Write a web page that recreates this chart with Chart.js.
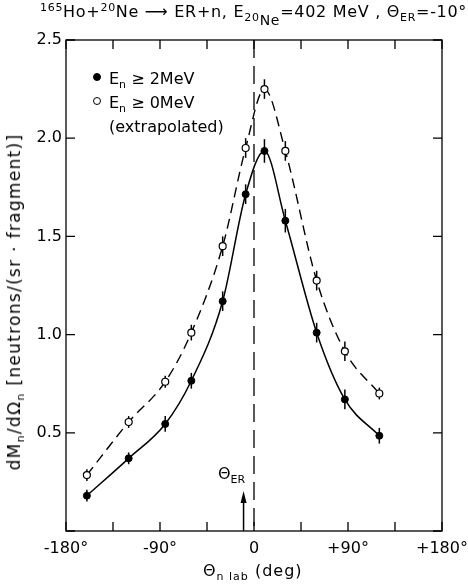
<!DOCTYPE html>
<html>
<head>
<meta charset="utf-8">
<script src="https://cdn.jsdelivr.net/npm/chart.js@4.4.1/dist/chart.umd.min.js"></script>
<style>
  html, body { margin: 0; padding: 0; background: #fff; }
  #wrap { position: relative; width: 468px; height: 587px; font-family: "DejaVu Sans", sans-serif; color: #000; }
  #chart { position: absolute; left: 0; top: 0; }
  .txt { position: absolute; white-space: nowrap; font-size: 16px; line-height: 20px; }
  .txt sub, .txt sup { font-size: 11px; line-height: 0; }
  .txt sub { vertical-align: -4px; }
  .txt sup { vertical-align: 6px; }
  #legend .row { height: 24px; line-height: 24px; }
  .mk { display: inline-block; width: 6px; height: 6px; border-radius: 50%; border: 1px solid #000; margin-right: 8px; vertical-align: 3px; }
  .mk.full { background: #000; }
  .mk.open { background: #fff; }
  .mk.none { border-color: transparent; }
</style>
</head>
<body>
<div id="wrap">
  <canvas id="chart" width="468" height="587"></canvas>
  <div class="txt" id="title" style="left:40px; top:2px; letter-spacing:0.7px;"><sup>165</sup>Ho+<sup>20</sup>Ne ⟶ ER+n, E<sub>20</sub><sub style="vertical-align:-8px; font-size:14px;">Ne</sub>=402 MeV , Θ<sub>ER</sub>=-10°</div>
  <div class="txt" id="legend" style="left:93px; top:67px;">
    <div class="row"><span class="mk full"></span>E<sub>n</sub> ≥ 2MeV</div>
    <div class="row"><span class="mk open"></span>E<sub>n</sub> ≥ 0MeV</div>
    <div class="row"><span class="mk none"></span>(extrapolated)</div>
  </div>
  <div class="txt" id="erLabel" style="left:218px; top:464px;">Θ<sub>ER</sub></div>
  <div class="txt" id="xTitle" style="left:203px; top:561px; letter-spacing:1px;">Θ<sub>n lab</sub> (deg)</div>
  <div class="txt" id="yTitle" style="left:14px; top:302px; font-size:17px; letter-spacing:1.3px; transform: translate(-50%, -50%) rotate(-90deg);">dM<sub>n</sub>/dΩ<sub>n</sub> [neutrons/(sr · fragment)]</div>
</div>
<script>
const angles = [-160, -120, -85, -60, -30, -8, 10, 30, 60, 87, 120];
const yield2MeV = [0.18, 0.37, 0.545, 0.765, 1.17, 1.715, 1.935, 1.58, 1.01, 0.67, 0.485];
const err2MeV = [0.03, 0.03, 0.04, 0.04, 0.05, 0.05, 0.06, 0.06, 0.05, 0.05, 0.04];
const yield0MeV = [0.285, 0.555, 0.76, 1.01, 1.45, 1.95, 2.25, 1.935, 1.275, 0.915, 0.70];
const err0MeV = [0.03, 0.03, 0.03, 0.04, 0.05, 0.05, 0.05, 0.05, 0.05, 0.05, 0.03];

const xTicks = [-180, -135, -90, -45, 0, 45, 90, 135, 180];
const xTickLabels = ["-180°", "", "-90°", "", "0", "", "+90°", "", "+180°"];
const yTicks = [0, 0.5, 1.0, 1.5, 2.0, 2.5];
const yTickLabels = ["", "0.5", "1.0", "1.5", "2.0", "2.5"];

const erAngle = -10;
const FONT = "'DejaVu Sans', sans-serif";

function toPoints(ys) {
  return angles.map((a, i) => ({ x: a, y: ys[i] }));
}

// frame, inward ticks, dashed zero line, theta_ER arrow, error bars
const decorations = {
  id: "decorations",
  beforeDatasetsDraw(chart) {
    const ctx = chart.ctx;
    const xs = chart.scales.x, ys = chart.scales.y;
    const { top, bottom } = chart.chartArea;
    ctx.save();
    ctx.strokeStyle = "#000";

    // dashed line at 0 deg
    const x0 = xs.getPixelForValue(0);
    ctx.lineWidth = 1.3;
    ctx.setLineDash([18, 8]);
    ctx.beginPath();
    ctx.moveTo(x0, top);
    ctx.lineTo(x0, bottom);
    ctx.stroke();
    ctx.setLineDash([]);

    // error bars
    ctx.lineWidth = 1.5;
    chart.data.datasets.forEach((ds) => {
      ds.data.forEach((p, i) => {
        const e = ds.errors[i];
        const px = xs.getPixelForValue(p.x);
        ctx.beginPath();
        ctx.moveTo(px, ys.getPixelForValue(p.y - e));
        ctx.lineTo(px, ys.getPixelForValue(p.y + e));
        ctx.stroke();
      });
    });
    ctx.restore();
  },
  afterDraw(chart) {
    const ctx = chart.ctx;
    const xs = chart.scales.x, ys = chart.scales.y;
    const { left, right, top, bottom } = chart.chartArea;
    const tl = 9;
    ctx.save();
    ctx.strokeStyle = "#000";
    ctx.fillStyle = "#000";
    ctx.lineWidth = 1.3;
    ctx.strokeRect(left, top, right - left, bottom - top);

    ctx.beginPath();
    xTicks.forEach((v) => {
      const px = xs.getPixelForValue(v);
      ctx.moveTo(px, bottom);
      ctx.lineTo(px, bottom - tl);
      ctx.moveTo(px, top);
      ctx.lineTo(px, top + tl);
    });
    yTicks.forEach((v) => {
      const py = ys.getPixelForValue(v);
      ctx.moveTo(left, py);
      ctx.lineTo(left + tl, py);
      ctx.moveTo(right, py);
      ctx.lineTo(right - tl, py);
    });
    ctx.stroke();

    // theta_ER arrow
    const xa = xs.getPixelForValue(erAngle);
    const tip = bottom - 40;
    ctx.lineWidth = 1.5;
    ctx.beginPath();
    ctx.moveTo(xa, bottom);
    ctx.lineTo(xa, tip + 8);
    ctx.stroke();
    ctx.beginPath();
    ctx.moveTo(xa, tip);
    ctx.lineTo(xa - 3, tip + 12);
    ctx.lineTo(xa + 3, tip + 12);
    ctx.closePath();
    ctx.fill();
    ctx.restore();
  },
};

new Chart(document.getElementById("chart"), {
  type: "line",
  data: {
    datasets: [
      {
        label: "En >= 2MeV",
        data: toPoints(yield2MeV),
        errors: err2MeV,
        borderColor: "#000",
        borderWidth: 1.5,
        cubicInterpolationMode: "monotone",
        pointRadius: 3.5,
        pointBackgroundColor: "#000",
        pointBorderColor: "#000",
        pointBorderWidth: 1,
      },
      {
        label: "En >= 0MeV (extrapolated)",
        data: toPoints(yield0MeV),
        errors: err0MeV,
        borderColor: "#000",
        borderWidth: 1.4,
        borderDash: [10, 6],
        cubicInterpolationMode: "monotone",
        pointRadius: 3.5,
        pointBackgroundColor: "#fff",
        pointBorderColor: "#000",
        pointBorderWidth: 1.2,
      },
    ],
  },
  options: {
    responsive: false,
    animation: false,
    layout: { padding: { left: 0, top: 40, right: 26, bottom: 0 } },
    plugins: {
      legend: { display: false },
      tooltip: { enabled: false },
    },
    scales: {
      x: {
        type: "linear",
        min: -180,
        max: 180,
        afterBuildTicks: (s) => { s.ticks = xTicks.map((v) => ({ value: v })); },
        afterFit: (s) => { s.height = 56; s.paddingLeft = 0; s.paddingRight = 0; },
        grid: { display: false, drawTicks: false },
        border: { display: false },
        ticks: {
          padding: 8,
          maxRotation: 0,
          autoSkip: false,
          color: "#000",
          font: { family: FONT, size: 16 },
          callback: (v, i) => xTickLabels[i],
        },
      },
      y: {
        type: "linear",
        min: 0,
        max: 2.5,
        afterBuildTicks: (s) => { s.ticks = yTicks.map((v) => ({ value: v })); },
        afterFit: (s) => { s.width = 66; s.paddingTop = 0; s.paddingBottom = 0; },
        grid: { display: false, drawTicks: false },
        border: { display: false },
        ticks: {
          padding: 4,
          autoSkip: false,
          color: "#000",
          font: { family: FONT, size: 16 },
          callback: (v, i) => yTickLabels[i],
        },
      },
    },
  },
  plugins: [decorations],
});
</script>
</body>
</html>
